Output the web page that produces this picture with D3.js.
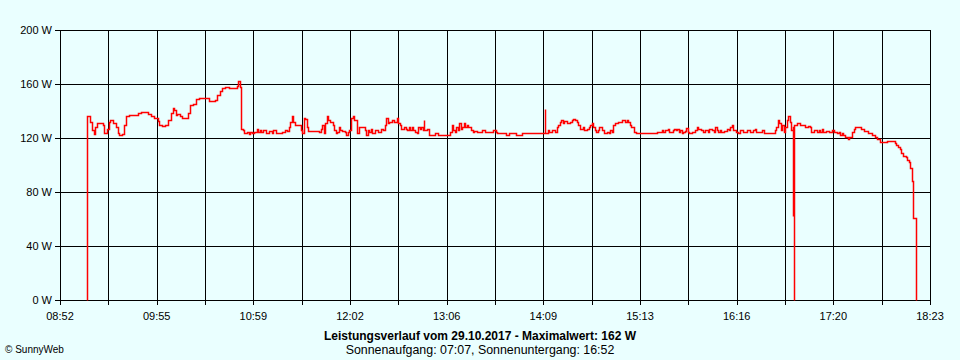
<!DOCTYPE html>
<html><head><meta charset="utf-8">
<script src="https://cdn.jsdelivr.net/npm/d3@7"></script>
<style>html,body{margin:0;padding:0;background:#eaffff}svg{display:block}</style>
</head><body>
<svg id="chart" width="960" height="360"></svg>
<script>
const startTime = "08:52", endTime = "18:23";
const times = [
"09:10","09:10","09:12","09:13","09:14","09:15","09:16","09:20","09:21","09:23","09:24","09:25","09:27","09:29","09:30","09:31","09:33","09:34","09:35","09:37",
"09:43","09:45","09:50","09:52","09:54","09:56","09:57","09:59","10:01","10:03","10:05","10:06","10:07","10:08","10:09","10:11","10:12","10:16","10:17","10:19",
"10:21","10:23","10:28","10:30","10:34","10:35","10:37","10:38","10:40","10:43","10:48","10:49","10:50","10:51","10:52","10:53","10:55","10:56","10:57","10:58",
"10:59","11:01","11:02","11:03","11:04","11:05","11:07","11:09","11:11","11:12","11:14","11:18","11:20","11:21","11:22","11:23","11:24","11:25","11:26","11:30",
"11:31","11:32","11:33","11:34","11:35","11:42","11:43","11:44","11:45","11:46","11:47","11:48","11:49","11:51","11:52","11:53","11:54","11:55","11:56","11:57",
"11:59","12:00","12:01","12:02","12:03","12:04","12:05","12:07","12:08","12:12","12:13","12:14","12:15","12:16","12:17","12:19","12:21","12:23","12:24","12:25",
"12:26","12:27","12:28","12:30","12:31","12:33","12:34","12:35","12:36","12:38","12:39","12:40","12:41","12:42","12:43","12:44","12:45","12:46","12:47","12:48",
"12:49","12:50","12:51","12:51","12:53","12:54","12:58","13:00","13:08","13:09","13:10","13:11","13:12","13:13","13:14","13:15","13:16","13:17","13:18","13:19",
"13:20","13:22","13:23","13:24","13:26","13:29","13:31","13:36","13:38","13:39","13:45","13:47","13:51","13:55","13:59","14:02","14:10","14:10","14:12","14:13",
"14:15","14:17","14:18","14:19","14:20","14:21","14:22","14:23","14:25","14:27","14:28","14:29","14:30","14:31","14:32","14:33","14:35","14:36","14:38","14:39",
"14:40","14:41","14:42","14:43","14:44","14:45","14:46","14:48","14:49","14:51","14:52","14:53","14:54","14:55","14:56","14:58","15:00","15:01","15:03","15:04",
"15:05","15:06","15:07","15:09","15:10","15:24","15:27","15:28","15:29","15:31","15:32","15:34","15:35","15:36","15:37","15:38","15:39","15:40","15:41","15:42",
"15:43","15:44","15:45","15:47","15:49","15:50","15:51","15:53","15:54","15:55","15:57","15:58","16:00","16:01","16:02","16:03","16:04","16:05","16:06","16:08",
"16:10","16:11","16:12","16:13","16:14","16:16","16:17","16:18","16:20","16:23","16:25","16:27","16:28","16:29","16:33","16:34","16:41","16:42","16:43","16:44",
"16:45","16:46","16:47","16:48","16:49","16:50","16:51","16:52","16:53","16:53","16:54","16:54","16:56","16:58","16:59","17:01","17:03","17:04","17:05","17:07","17:09",
"17:10","17:11","17:12","17:13","17:15","17:17","17:19","17:20","17:22","17:23","17:24","17:25","17:26","17:27","17:29","17:30","17:31","17:32","17:33","17:34",
"17:37","17:38","17:40","17:42","17:44","17:45","17:47","17:48","17:50","17:52","17:55","17:57","17:59","18:00","18:01","18:02","18:03","18:04","18:05","18:07",
"18:08","18:09","18:10","18:11","18:12","18:14"
];
const watts = [
0,136,132,126,123,128,131,130,124,127,132,133,131,128,123.5,122,123,129.5,136.5,137,
138.5,139.5,137.5,136,134.5,132.5,129.5,129,130,133.5,138.5,142,140.5,137,137.5,136.5,134.5,138.5,144.5,145.5,
149,150,150,147.5,148.5,152,154.5,157,157.5,157,158.5,162,158,127,126,123.5,124.5,123,124.5,123.5,
124.5,127,124.5,126,124.5,126,124,125,123.5,126,123.5,124.5,126,125.5,128.5,132,136,132,129.5,126,
123.5,134.5,134,128.5,125,124.5,127,130,123.5,131,136,133.5,132,129.5,126,123.5,124.5,128.5,126,125.5,
124.5,122.5,124.5,126,134.5,136,133.5,123.5,128.5,126,122.5,126,124.5,127,123.5,126,124.5,127,126,129.5,
134.5,131,132,133.5,132,134.5,131,129.5,127,128.5,127,126,128.5,126,128.5,126,124.5,123.5,128.5,127,
128.5,126,133.5,126,127,122.5,123.5,122.5,124.5,129.5,126,124.5,128.5,126,131,127,128.5,131,128.5,129.5,
128.5,126,124.5,125,124.5,126,124.5,126,124.5,123.5,122.5,123.5,122.5,123.5,124,123.5,141.5,123.5,126,124.5,
126,124.5,128.5,129.5,132,133.5,131,132.5,131,132,133.5,134,133.5,132,129.5,127,128.5,126,126.5,128.5,
129.5,131,128.5,126,124.5,126,128.5,126,123.5,124.5,123.5,126,124.5,129.5,131,132,131.5,133.5,132,133.5,
132,129.5,128.5,124.5,123.5,124.5,126,124.5,126,127,124.5,126,127,126,127,124.5,126,123.5,124.5,125,
127.5,124.5,123.5,124.5,126,128.5,127,126,124.5,126,124.5,127,126,124.5,128.5,126,124.5,126,124.5,125,
127,126,128.5,130,126,124.5,123.5,126,124.5,126,124.5,126,127,124.5,126,123.5,126,128.5,133.5,131,
126,129.5,124.5,128.5,133.5,136,132,126,62,128,0,129.5,131,130,129.5,128.5,129,128.5,124.5,126,124.5,
126,124.5,127,124.5,125,124.5,126,124.5,123.5,124.5,122,123.5,122,121,119.5,120.5,121,124.5,127,128,
128,126.5,125.5,124,123.5,122.5,121,119,117,117,117.5,118,117.5,116.5,115,113.5,111.5,109,107,106,
104,102,98,88,60.5,0
];
const yTicks = [0, 40, 80, 120, 160, 200];
const yTickLabels = ["0 W", "40 W", "80 W", "120 W", "160 W", "200 W"];
const xTickLabels = ["08:52", "09:55", "10:59", "12:02", "13:06", "14:09", "15:13", "16:16", "17:20", "18:23"];
const xGridCount = 18;
const title = "Leistungsverlauf vom 29.10.2017 - Maximalwert: 162 W";
const subtitle = "Sonnenaufgang: 07:07, Sonnenuntergang: 16:52";
const credit = "\u00A9 SunnyWeb";

const parse = d3.timeParse("%H:%M");
const data = times.map((t, i) => ({ t: parse(t), v: watts[i] }));

const svg = d3.select("#chart");
const L = 60, R = 930, T = 30, B = 300;
const x = d3.scaleTime().domain([parse(startTime), parse(endTime)]).range([L, R]);
const y = d3.scaleLinear().domain([0, 200]).range([B, T]);
const font = "'Liberation Sans', Arial, sans-serif";

svg.append("rect").attr("x", 0).attr("y", 0).attr("width", 960).attr("height", 360).attr("fill", "#eaffff");

const t0 = parse(startTime).getTime(), t1 = parse(endTime).getTime();
const gridTimes = d3.range(xGridCount + 1).map(i => new Date(t0 + i * (t1 - t0) / xGridCount));
const px = v => Math.round(v) + 0.5;

const grid = svg.append("g").attr("stroke", "#000").attr("stroke-width", 1).attr("shape-rendering", "crispEdges");
grid.selectAll("line.v").data(gridTimes).join("line")
  .attr("x1", d => px(x(d))).attr("x2", d => px(x(d)))
  .attr("y1", T).attr("y2", B + 5);
grid.selectAll("line.h").data(yTicks).join("line")
  .attr("x1", L - 5).attr("x2", R + 0.5)
  .attr("y1", d => px(y(d))).attr("y2", d => px(y(d)));

// snap to pixel centres so that a 1.5px red stroke stays crisp and clearly red
const line = d3.line().x(d => px(x(d.t))).y(d => px(y(d.v))).curve(d3.curveStepAfter);
svg.append("path").datum(data).attr("d", line)
  .attr("fill", "none").attr("stroke", "#ff0000").attr("stroke-width", 1.5)
  .attr("stroke-linejoin", "miter");

svg.append("g").selectAll("text").data(yTicks).join("text")
  .attr("x", L - 8).attr("y", d => y(d) + 4)
  .attr("text-anchor", "end").attr("font-family", font).attr("font-size", 11).attr("fill", "#000")
  .text((d, i) => yTickLabels[i]);

svg.append("g").selectAll("text").data(xTickLabels).join("text")
  .attr("x", (d, i) => x(gridTimes[i * 2])).attr("y", 320)
  .attr("text-anchor", "middle").attr("font-family", font).attr("font-size", 11).attr("fill", "#000")
  .text(d => d);

svg.append("text").attr("x", 480).attr("y", 340).attr("text-anchor", "middle")
  .attr("font-family", font).attr("font-size", 12).attr("font-weight", "bold").text(title);
svg.append("text").attr("x", 480).attr("y", 354).attr("text-anchor", "middle")
  .attr("font-family", font).attr("font-size", 12.4).text(subtitle);
svg.append("text").attr("x", 5).attr("y", 353)
  .attr("font-family", font).attr("font-size", 10).text(credit);
</script>
</body></html>
